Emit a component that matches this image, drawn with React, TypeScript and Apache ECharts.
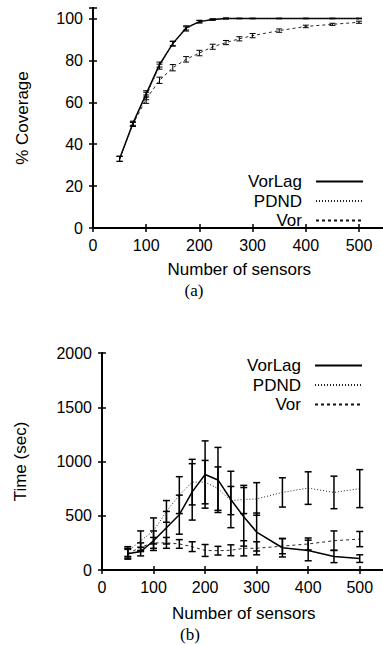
import React, { useEffect, useRef } from "react";
import * as echarts from "echarts";

// Number of sensors (x) shared by both panels
const sensors = [50, 75, 100, 125, 150, 175, 200, 225, 250, 275, 300, 350, 400, 450, 500];
const xTicks = [0, 100, 200, 300, 400, 500];

// Panel (a): % coverage
const covVorLag = [33, 50, 64, 78, 88, 95.5, 98.5, 99.5, 100, 100, 100, 100, 100, 100, 100];
const covVorLagErr = [1.2, 1.0, 1.5, 1.2, 1.0, 1.0, 0.6, 0.3, 0.2, 0.1, 0.1, 0.1, 0.1, 0.1, 0.1];
const covPDND = [33, 49.5, 63, 77, 88, 95, 98.5, 99.5, 100, 100, 100, 100, 100, 100, 100];
const covPDNDErr = [1.2, 1.0, 1.8, 1.2, 1.2, 1.0, 0.6, 0.3, 0.2, 0.1, 0.1, 0.1, 0.1, 0.1, 0.1];
const covVor = [33, 49.5, 61.5, 70.5, 76.5, 80.5, 83.5, 86.5, 88.5, 90.3, 91.8, 94.2, 96.2, 97.2, 98.2];
const covVorErr = [1.2, 1.0, 2.0, 1.5, 1.5, 1.3, 1.3, 1.2, 1.0, 1.0, 1.0, 0.8, 0.6, 0.5, 0.5];

// Panel (b): time (sec)
const timeVorLag = [150, 170, 270, 390, 510, 720, 880, 830, 650, 490, 350, 205, 180, 125, 105];
const timeVorLagErr = [50, 40, 90, 150, 180, 260, 310, 300, 260, 270, 175, 85, 95, 57, 35];
const timePDND = [170, 270, 360, 540, 690, 810, 810, 750, 640, 650, 655, 715, 755, 715, 750];
const timePDNDErr = [45, 90, 120, 100, 170, 210, 200, 200, 130, 130, 150, 135, 150, 150, 175];
const timeVor = [150, 210, 250, 250, 240, 215, 180, 178, 182, 200, 200, 220, 240, 270, 285];
const timeVorErr = [40, 40, 50, 50, 40, 45, 55, 40, 50, 70, 60, 70, 55, 90, 70];

const names = ["VorLag", "PDND", "Vor"];

const SANS = "Liberation Sans, Arial, Helvetica, sans-serif";
const SERIF = "Liberation Serif, Times New Roman, serif";

const lineStyles: any[] = [
  { color: "#000", width: 1.5, type: "solid" },
  { color: "#222", width: 1, type: [1, 2] },
  { color: "#111", width: 0.9, type: [3, 3] },
];

function pairs(ys: number[]) {
  return sensors.map((x, i) => [x, ys[i]]);
}
function errData(ys: number[], es: number[]) {
  return sensors.map((x, i) => [x, ys[i] - es[i], ys[i] + es[i]]);
}

function makeErrRender(lw: number, cap: number) {
  return (params: any, api: any) => {
    const x = api.value(0);
    const lo = api.coord([x, api.value(1)]);
    const hi = api.coord([x, api.value(2)]);
    const st = { stroke: "#000", lineWidth: lw, fill: "none" };
    return {
      type: "group",
      children: [
        { type: "line", shape: { x1: lo[0], y1: lo[1], x2: hi[0], y2: hi[1] }, style: st },
        { type: "line", shape: { x1: lo[0] - cap, y1: lo[1], x2: lo[0] + cap, y2: lo[1] }, style: st },
        { type: "line", shape: { x1: hi[0] - cap, y1: hi[1], x2: hi[0] + cap, y2: hi[1] }, style: st },
      ],
    };
  };
}

function xAxisPair(gridIndex: number, nameGap: number) {
  const base = {
    type: "value",
    gridIndex,
    min: 0,
    max: 550,
    interval: 100,
    splitLine: { show: false },
    axisLine: { show: true, lineStyle: { color: "#000", width: 2 } },
    axisTick: { show: true, inside: true, length: 4, lineStyle: { color: "#000", width: 1.5 } },
  };
  return [
    {
      ...base,
      position: "bottom",
      name: "Number of sensors",
      nameLocation: "middle",
      nameGap,
      nameTextStyle: { fontFamily: SANS, fontSize: 17, color: "#000" },
      axisLabel: {
        show: true,
        margin: 9,
        fontFamily: SANS,
        fontSize: 16,
        color: "#000",
        formatter: (v: number) => (xTicks.indexOf(v) >= 0 ? String(v) : ""),
      },
    },
    { ...base, position: "top", axisLabel: { show: false } },
  ];
}

function yAxisPair(gridIndex: number, max: number, interval: number, labelMax: number, name: string, nameGap: number) {
  const base = {
    type: "value",
    gridIndex,
    min: 0,
    max,
    interval,
    splitLine: { show: false },
    axisLine: { show: true, lineStyle: { color: "#000", width: 2 } },
    axisTick: { show: true, inside: true, length: 4, lineStyle: { color: "#000", width: 1.5 } },
  };
  return [
    {
      ...base,
      position: "left",
      name,
      nameLocation: "middle",
      nameGap,
      nameRotate: 90,
      nameTextStyle: { fontFamily: SANS, fontSize: 17, color: "#000" },
      axisLabel: {
        show: true,
        margin: 10,
        fontFamily: SANS,
        fontSize: 16,
        color: "#000",
        formatter: (v: number) => (v <= labelMax ? String(v) : ""),
      },
    },
    { ...base, position: "right", axisLabel: { show: false } },
  ];
}

export default function App() {
  const ref = useRef<HTMLDivElement>(null);

  useEffect(() => {
    if (!ref.current) return;
    const chart = echarts.init(ref.current, null, { renderer: "svg" });

    const series: any[] = [];
    const panels = [
      { xi: 0, yi: 0, vals: [covVorLag, covPDND, covVor], errs: [covVorLagErr, covPDNDErr, covVorErr], lw: 1, cap: 3 },
      { xi: 2, yi: 2, vals: [timeVorLag, timePDND, timeVor], errs: [timeVorLagErr, timePDNDErr, timeVorErr], lw: 1.5, cap: 3.5 },
    ];
    panels.forEach((p) => {
      names.forEach((n, k) => {
        series.push({
          type: "line",
          name: n,
          xAxisIndex: p.xi,
          yAxisIndex: p.yi,
          data: pairs(p.vals[k]),
          symbol: "none",
          lineStyle: lineStyles[k],
          itemStyle: { color: lineStyles[k].color },
          z: 3,
        });
      });
      names.forEach((n, k) => {
        series.push({
          type: "custom",
          name: n + " error",
          xAxisIndex: p.xi,
          yAxisIndex: p.yi,
          data: errData(p.vals[k], p.errs[k]),
          encode: { x: 0, y: [1, 2] },
          renderItem: makeErrRender(p.lw, p.cap),
          z: 4,
        });
      });
    });

    const legendBase = {
      orient: "vertical",
      align: "right",
      data: names,
      padding: 0,
      itemWidth: 47,
      itemHeight: 10,
      itemGap: 2.5,
      selectedMode: false,
      itemStyle: { opacity: 0 },
      textStyle: { fontFamily: SANS, fontSize: 17, color: "#000", lineHeight: 14, padding: [0, 9, 0, 0] },
    };

    chart.setOption({
      animation: false,
      backgroundColor: "#fff",
      grid: [
        { left: 93, top: 8, width: 292.6, height: 220 },
        { left: 102, top: 353, width: 283.5, height: 217 },
      ],
      xAxis: [...xAxisPair(0, 33), ...xAxisPair(1, 35)],
      yAxis: [
        ...yAxisPair(0, 105, 20, 100, "% Coverage", 62),
        ...yAxisPair(1, 2000, 500, 2000, "Time (sec)", 73),
      ],
      legend: [
        { ...legendBase, right: 36, top: 173 },
        { ...legendBase, right: 37, top: 357 },
      ],
      graphic: [
        {
          type: "text",
          x: 194,
          y: 290,
          style: { text: "(a)", fontFamily: SERIF, fontSize: 17, fill: "#000", align: "center", verticalAlign: "middle" },
        },
        {
          type: "text",
          x: 190,
          y: 634,
          style: { text: "(b)", fontFamily: SERIF, fontSize: 17, fill: "#000", align: "center", verticalAlign: "middle" },
        },
      ],
      series,
    });

    return () => chart.dispose();
  }, []);

  return (
    <div
      ref={ref}
      style={{ position: "fixed", left: 0, top: 0, width: 400, height: 645, background: "#fff" }}
    />
  );
}
